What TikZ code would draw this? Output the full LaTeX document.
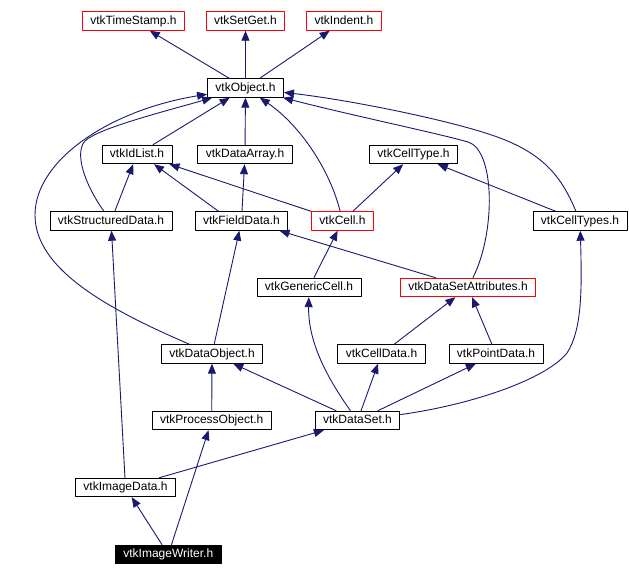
\documentclass[tikz,border=0pt]{standalone}
\usepackage{fontspec}
\setmainfont{Liberation Sans}
\usetikzlibrary{arrows.meta}
\definecolor{edgeblue}{HTML}{191970}
\tikzset{
  hdr/.style={draw=black, line width=0.9pt, fill=white, inner xsep=8pt, inner ysep=0pt,
    minimum height=18.5pt, text height=8.6pt, text depth=2.4pt},
  hdrred/.style={hdr, draw=red},
  hdrroot/.style={hdr, fill=black, text=white},
  dep/.style={draw=edgeblue, line width=0.9pt, -{Triangle[length=10pt,width=8pt]}},
}
\begin{document}
\begin{tikzpicture}[x=1pt, y=-1pt, font=\fontsize{12}{14}\selectfont, line join=round]
  \useasboundingbox (0,0) rectangle (629,576);
  \foreach \n/\x/\y/\s/\t in {
      tstamp/133.5/21/hdrred/vtkTimeStamp.h,
      setget/245.5/21/hdrred/vtkSetGet.h,
      indent/344/21/hdrred/vtkIndent.h,
      obj/245.5/88/hdr/vtkObject.h,
      idlist/137/154.5/hdr/vtkIdList.h,
      darray/245/154.5/hdr/vtkDataArray.h,
      celltype/413.5/154.5/hdr/vtkCellType.h,
      sdata/111/221/hdr/vtkStructuredData.h,
      fdata/241.5/221/hdr/vtkFieldData.h,
      cell/342.5/221/hdrred/vtkCell.h,
      ctypes/580/221/hdr/vtkCellTypes.h,
      gcell/309/287.5/hdr/vtkGenericCell.h,
      dsa/468/287.5/hdrred/vtkDataSetAttributes.h,
      dobj/212/354/hdr/vtkDataObject.h,
      cdata/381.5/354/hdr/vtkCellData.h,
      pdata/496/354/hdr/vtkPointData.h,
      pobj/211.7/420.5/hdr/vtkProcessObject.h,
      dset/357.5/420.5/hdr/vtkDataSet.h,
      idata/125.5/487.5/hdr/vtkImageData.h,
      iwriter/168.3/554.5/hdrroot/vtkImageWriter.h} {
    \node[\s] (\n) at (\x,\y) {\t};
  }
  \foreach \a/\b in {obj/tstamp, obj/setget, obj/indent, idlist/obj, darray/obj,
      sdata/idlist, fdata/darray, cell/celltype, ctypes/celltype, gcell/cell,
      dobj/fdata, idata/sdata, cdata/dsa, pdata/dsa, dset/dobj, dset/cdata,
      dset/pdata, pobj/dobj, idata/dset, iwriter/idata, iwriter/pobj} {
    \draw[dep] (\a) -- (\b);
  }
  \draw[dep] ([xshift=-23pt]fdata.north) -- ([xshift=17pt]idlist.south);
  \draw[dep] (cell.north west) -- ([xshift=-3pt]idlist.south east);
  \draw[dep] (dsa) -- ([xshift=38pt]fdata.south);
  \draw[dep] (cell) .. controls (330,170) and (300,125) .. (obj);
  \draw[dep] (sdata) .. controls (85,185) and (74,153) .. (85,141)
    .. controls (98,128) and (170,110) .. (obj);
  \draw[dep] (dobj) .. controls (110,310) and (35,270) .. (35,215)
    .. controls (35,160) and (110,110) .. (obj);
  \draw[dep] (dsa) .. controls (496,232) and (495,150) .. (468,142)
    .. controls (441,134) and (350,115) .. (obj);
  \draw[dep] (ctypes) .. controls (562,178) and (545,155) .. (500,138)
    .. controls (455,121) and (350,100) .. (obj);
  \draw[dep] (dset) .. controls (325,375) and (308,340) .. (gcell);
  \draw[dep] (dset) .. controls (470,405) and (545,380) .. (567,353)
    .. controls (582,330) and (582,290) .. (ctypes);
\end{tikzpicture}
\end{document}
